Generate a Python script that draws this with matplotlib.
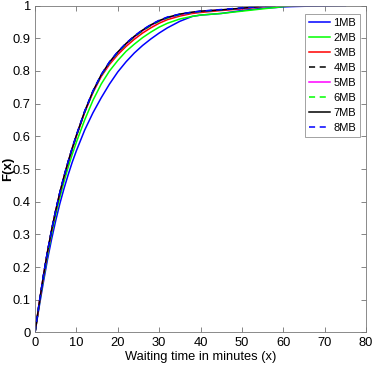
import numpy as np
import matplotlib
matplotlib.use("Agg")
import matplotlib.pyplot as plt

plt.rcParams['font.family'] = ['Liberation Sans', 'DejaVu Sans']

# Common x grid (waiting time in minutes)
x_min = [0, 1, 2, 3, 4, 5, 6, 7, 8, 9, 10, 12, 14, 16, 18, 20, 22, 24, 26, 28,
         30, 32, 35, 38, 40, 45, 50, 55, 58, 60, 62, 65, 70, 75]
nan = np.nan
cdf_1mb = [0, 0.078, 0.152, 0.222, 0.285, 0.342, 0.394, 0.44, 0.482, 0.521, 0.556, 0.619, 0.672,
           0.718, 0.76, 0.797, 0.828, 0.855, 0.878, 0.898, 0.916, 0.932, 0.952, 0.967, 0.971,
           0.976, 0.985, 0.992, 0.994, 0.996, 0.997, 0.998, 0.999, 1.0]
cdf_2mb = [0, 0.083, 0.162, 0.235, 0.301, 0.36, 0.413, 0.461, 0.505, 0.545, 0.582, 0.65, 0.71,
           0.76, 0.80, 0.832, 0.86, 0.882, 0.902, 0.919, 0.934, 0.946, 0.959, 0.967, 0.971,
           0.976, 0.983, 0.99, 0.994, 0.997, 1.0, nan, nan, nan]
cdf_3mb = [0, 0.087, 0.169, 0.244, 0.311, 0.371, 0.426, 0.475, 0.52, 0.562, 0.6, 0.673, 0.734,
           0.783, 0.82, 0.85, 0.875, 0.897, 0.916, 0.932, 0.946, 0.957, 0.968, 0.976, 0.979,
           0.985, 0.99, 0.997, 1.0, nan, nan, nan, nan, nan]
cdf_4mb = [0, 0.088, 0.17, 0.245, 0.312, 0.372, 0.427, 0.476, 0.521, 0.563, 0.602, 0.675, 0.737,
           0.787, 0.826, 0.857, 0.883, 0.905, 0.924, 0.94, 0.953, 0.963, 0.973, 0.979, 0.982,
           0.987, 0.992, 0.998, 1.0, nan, nan, nan, nan, nan]
cdf_5mb = [0, 0.088, 0.17, 0.245, 0.312, 0.372, 0.427, 0.476, 0.521, 0.563, 0.602, 0.675, 0.736,
           0.786, 0.825, 0.856, 0.882, 0.904, 0.923, 0.939, 0.952, 0.962, 0.972, 0.979, 0.982,
           0.987, 0.991, 0.998, 1.0, nan, nan, nan, nan, nan]
cdf_6mb = [0, 0.088, 0.17, 0.245, 0.312, 0.372, 0.427, 0.476, 0.521, 0.563, 0.602, 0.675, 0.736,
           0.786, 0.825, 0.856, 0.882, 0.904, 0.923, 0.939, 0.952, 0.962, 0.972, 0.979, 0.982,
           0.987, 0.992, 0.998, 1.0, nan, nan, nan, nan, nan]
cdf_7mb = [0, 0.088, 0.171, 0.246, 0.313, 0.373, 0.428, 0.477, 0.522, 0.564, 0.603, 0.676, 0.738,
           0.788, 0.827, 0.858, 0.884, 0.906, 0.925, 0.941, 0.954, 0.964, 0.974, 0.98, 0.983,
           0.987, 0.992, 0.998, 1.0, nan, nan, nan, nan, nan]
cdf_8mb = [0, 0.089, 0.172, 0.247, 0.314, 0.374, 0.429, 0.478, 0.523, 0.565, 0.604, 0.677, 0.739,
           0.789, 0.828, 0.859, 0.885, 0.907, 0.926, 0.942, 0.955, 0.965, 0.974, 0.98, 0.983,
           0.988, 0.993, 0.998, 1.0, nan, nan, nan, nan, nan]

labels = ['1MB', '2MB', '3MB', '4MB', '5MB', '6MB', '7MB', '8MB']
series = [cdf_1mb, cdf_2mb, cdf_3mb, cdf_4mb, cdf_5mb, cdf_6mb, cdf_7mb, cdf_8mb]
colors = ['#0000ff', '#00ff00', '#ff0000', '#000000', '#ff00ff', '#00ff00', '#000000', '#0000ff']
styles = ['-', '-', '-', '--', '-', '--', '-', '--']

x_ticks = [0, 10, 20, 30, 40, 50, 60, 70, 80]
y_ticks = [0, 0.1, 0.2, 0.3, 0.4, 0.5, 0.6, 0.7, 0.8, 0.9, 1]
y_tick_labels = ['0', '0.1', '0.2', '0.3', '0.4', '0.5', '0.6', '0.7', '0.8', '0.9', '1']

fig = plt.figure(figsize=(3.74, 3.74), dpi=100)
ax = fig.add_axes([0.0936, 0.111, 0.885, 0.874])

for y, lab, c, ls in zip(series, labels, colors, styles):
    if ls == '--':
        ax.plot(x_min, y, color=c, linestyle='--', dashes=(4, 3), linewidth=1.1, label=lab)
    else:
        ax.plot(x_min, y, color=c, linestyle='-', linewidth=1.1, label=lab)

ax.set_xlim(0, 80)
ax.set_ylim(0, 1)
ax.set_xticks(x_ticks)
ax.set_yticks(y_ticks)
ax.set_yticklabels(y_tick_labels)
ax.tick_params(direction='in', length=3.5, width=0.5, colors='#555555',
               top=True, right=True, labelsize=9.3, pad=3)
for t in ax.get_xticklabels() + ax.get_yticklabels():
    t.set_color('black')
for s in ax.spines.values():
    s.set_color('#777777')
    s.set_linewidth(0.6)

ax.set_xlabel('Waiting time in minutes (x)', fontsize=9.3, labelpad=2)
ax.set_ylabel('F(x)', fontsize=9.5, fontweight='bold')
ax.yaxis.set_label_coords(-0.062, 0.5)

leg = ax.legend(loc='upper right', bbox_to_anchor=(0.982, 0.974), fontsize=8,
                frameon=True, fancybox=False, handlelength=1.9, handletextpad=0.3,
                borderpad=0.35, labelspacing=0.45, borderaxespad=0.0)
leg.get_frame().set_edgecolor('#777777')
leg.get_frame().set_linewidth(0.6)

fig.savefig('out.png', dpi=100)
